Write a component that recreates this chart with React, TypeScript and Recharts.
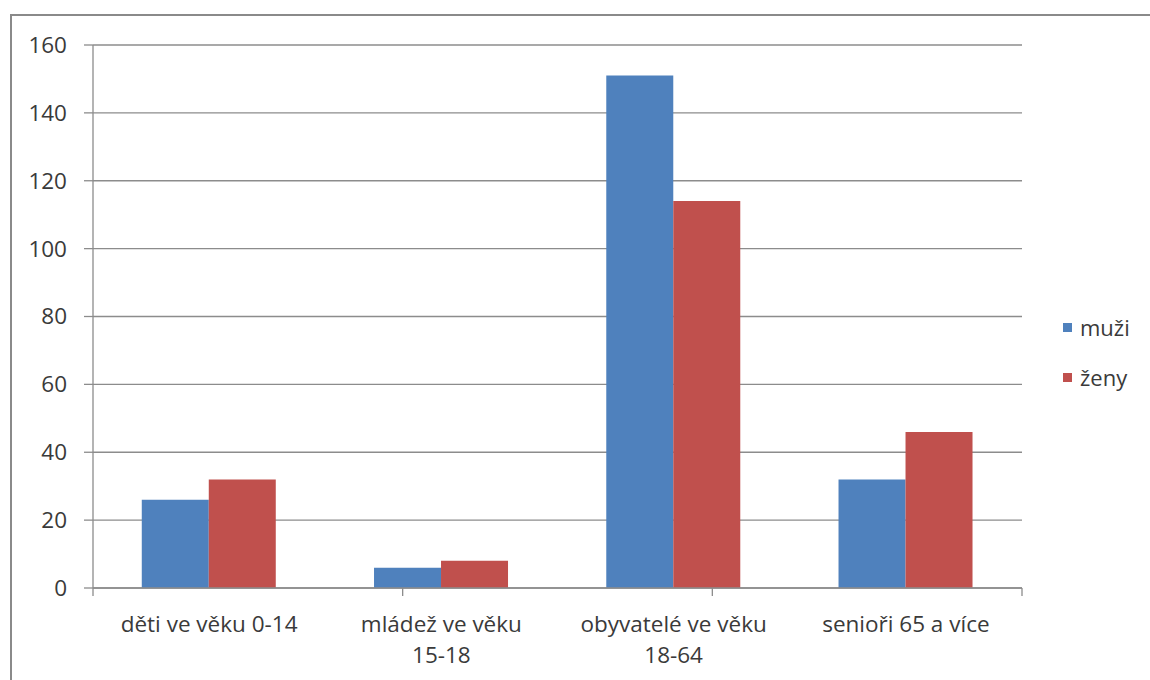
import React from "react";
import { BarChart, Bar, XAxis, YAxis, CartesianGrid } from "recharts";

const categories = [
  ["děti ve věku 0-14"],
  ["mládež ve věku", "15-18"],
  ["obyvatelé ve věku", "18-64"],
  ["senioři 65 a více"],
];
const muzi = [26, 6, 151, 32];
const zeny = [32, 8, 114, 46];
const yTicks = [0, 20, 40, 60, 80, 100, 120, 140, 160];
const boundaryTicks = [0, 1, 2, 3, 4];

const FONT = "'Open Sans', sans-serif";
const TEXT = "#3a3a3a";
const GRID = "#8c8c8c";
const BLUE = "#4f81bd";
const RED = "#c0504d";

const data = categories.map((lines, i) => ({
  name: lines.join(" "),
  lines,
  muži: muzi[i],
  ženy: zeny[i],
}));

const CategoryTick = (props: any) => {
  const { x, y, payload } = props;
  const lines: string[] = data[payload.index]?.lines ?? [payload.value];
  return (
    <text
      x={x}
      y={y}
      textAnchor="middle"
      fill={TEXT}
      fontSize={22.5}
      fontFamily={FONT}
    >
      {lines.map((l, i) => (
        <tspan key={i} x={x} dy={i === 0 ? 26 : 31}>
          {l}
        </tspan>
      ))}
    </text>
  );
};

const legendItems = [
  { label: "muži", color: BLUE },
  { label: "ženy", color: RED },
];

export default function App() {
  return (
    <div
      style={{
        position: "absolute",
        left: 0,
        top: 0,
        width: 1150,
        height: 680,
        overflow: "hidden",
        background: "#fff",
      }}
    >
      <div
        style={{
          position: "absolute",
          left: 10,
          top: 14,
          width: 1150,
          height: 700,
          border: "2px solid #8a8a8a",
        }}
      />
      <BarChart
        width={1150}
        height={680}
        data={data}
        margin={{ top: 45, right: 128, left: 0, bottom: 0 }}
        barCategoryGap="21%"
        barGap={0}
        style={{ position: "absolute", left: 0, top: 0 }}
      >
        <CartesianGrid vertical={false} stroke={GRID} strokeWidth={1.3} />
        <XAxis
          xAxisId="a_edges"
          type="number"
          domain={[0, 4]}
          ticks={boundaryTicks}
          allowDataOverflow
          tickFormatter={() => ""}
          tickSize={8}
          height={10}
          stroke={GRID}
          strokeWidth={1.3}
        />
        <XAxis
          xAxisId="b_cat"
          dataKey="name"
          height={82}
          axisLine={false}
          tickLine={false}
          interval={0}
          tick={<CategoryTick />}
        />
        <YAxis
          domain={[0, 160]}
          ticks={yTicks}
          width={93}
          tickSize={9}
          tickMargin={17}
          stroke={GRID}
          strokeWidth={1.3}
          tick={{ fill: TEXT, fontSize: 22.5, fontFamily: FONT }}
        />
        <Bar
          xAxisId="b_cat"
          dataKey="muži"
          fill={BLUE}
          isAnimationActive={false}
        />
        <Bar
          xAxisId="b_cat"
          dataKey="ženy"
          fill={RED}
          isAnimationActive={false}
        />
      </BarChart>
      <div
        style={{
          position: "absolute",
          left: 1063,
          top: 302,
          fontFamily: FONT,
          fontSize: 22,
          color: TEXT,
        }}
      >
        {legendItems.map((it) => (
          <div
            key={it.label}
            style={{ display: "flex", alignItems: "center", height: 50 }}
          >
            <span
              style={{
                display: "inline-block",
                width: 9,
                height: 9,
                background: it.color,
                marginRight: 8,
              }}
            />
            {it.label}
          </div>
        ))}
      </div>
    </div>
  );
}
